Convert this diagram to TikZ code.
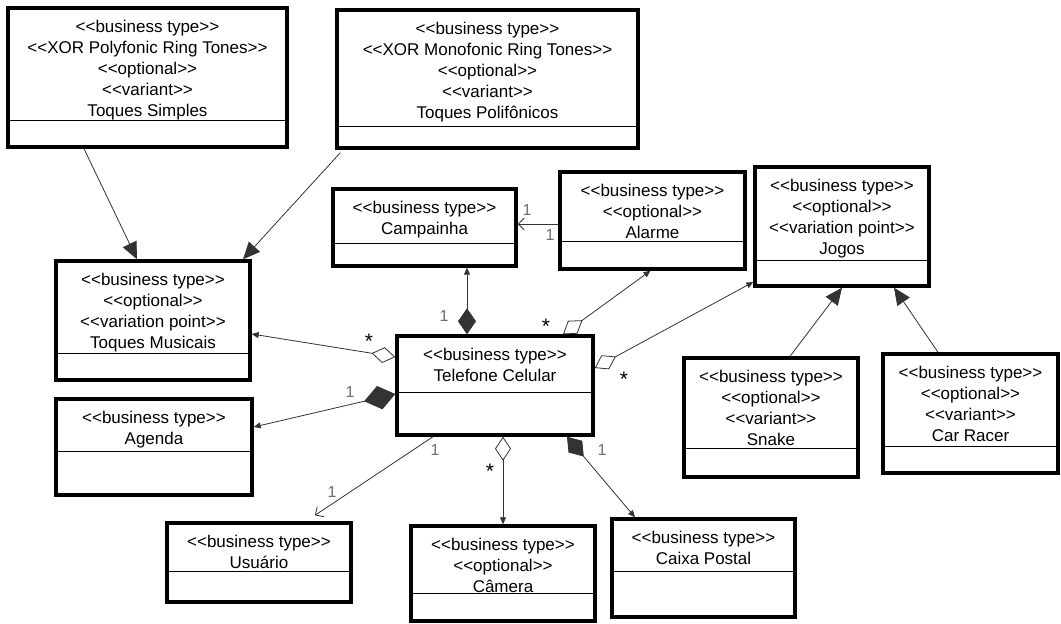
\documentclass[tikz,border=0pt]{standalone}
\usepackage{fontspec}
\setmainfont{Liberation Sans}
\usetikzlibrary{arrows.meta,calc}
\definecolor{edgegray}{HTML}{333333}
\definecolor{multgray}{HTML}{6E6E6E}
% stereotype brackets, kept apart so they are not merged into guillemets
\newcommand\stereo[1]{<\kern0pt<#1>\kern0pt>}
% class box: name, left, top, right, bottom, divider y, text
\newcommand\umlclass[7]{%
  \node[classbox, minimum width={#4-#2}, minimum height={#5-#3}] (#1) at ({(#2+#4)/2},{(#3+#5)/2}) {};
  \draw[divider] ([yshift={#3-#6}]#1.north west) -- ([yshift={#3-#6}]#1.north east);
  \node[classtext, anchor=north] (#1-label) at ([yshift=-14pt]#1.north) {#7};
}
\begin{document}
\begin{tikzpicture}[x=1pt,y=-1pt,
  classbox/.style={draw, line width=3.4pt, rectangle, inner sep=0pt},
  divider/.style={line width=1pt},
  classtext/.style={align=center, inner sep=0pt, font=\fontsize{17}{21}\selectfont},
  link/.style={draw=edgegray, line width=0.8pt},
  gen/.style={link, -{Triangle[length=17pt,width=15pt]}},
  aggnav/.style={link, {Diamond[fill=white,length=24pt,width=16pt]}-{Triangle[length=7pt,width=6pt]}},
  compnav/.style={link, {Diamond[length=26pt,width=18pt]}-{Triangle[length=7pt,width=6pt]}},
  compbig/.style={link, {Diamond[length=32pt,width=24pt]}-{Triangle[length=7pt,width=6pt]}},
  opennav/.style={link, -{Straight Barb[length=6pt,width=12pt]}},
  mult/.style={text=multgray, inner sep=0pt, font=\fontsize{16}{16}\selectfont},
  star/.style={inner sep=0pt, font=\fontsize{21}{21}\selectfont}
]
\useasboundingbox (0,0) rectangle (1061,624);

% classes
\umlclass{simples}{8}{8}{287}{147}{122}{\stereo{business type}\\\stereo{XOR Polyfonic Ring Tones}\\\stereo{optional}\\\stereo{variant}\\Toques Simples}
\umlclass{polif}{337}{10}{638}{148}{128}{\stereo{business type}\\\stereo{XOR Monofonic Ring Tones}\\\stereo{optional}\\\stereo{variant}\\Toques Polifônicos}
\umlclass{camp}{333}{189}{516}{266}{245}{\stereo{business type}\\Campainha}
\umlclass{alarme}{560}{172}{745}{269}{243}{\stereo{business type}\\\stereo{optional}\\Alarme}
\umlclass{jogos}{755}{167}{929}{286}{262}{\stereo{business type}\\\stereo{optional}\\\stereo{variation point}\\Jogos}
\umlclass{musicais}{56}{261}{250}{380}{355}{\stereo{business type}\\\stereo{optional}\\\stereo{variation point}\\Toques Musicais}
\umlclass{agenda}{56}{399}{252}{495}{453}{\stereo{business type}\\Agenda}
\umlclass{tel}{397}{336}{593}{435}{394}{\stereo{business type}\\Telefone Celular}
\umlclass{usuario}{167}{523}{351}{602}{573}{\stereo{business type}\\Usuário}
\umlclass{camera}{411}{526}{595}{621}{595}{\stereo{business type}\\\stereo{optional}\\Câmera}
\umlclass{caixa}{612}{519}{795}{617}{573}{\stereo{business type}\\Caixa Postal}
\umlclass{snake}{684}{358}{858}{477}{450}{\stereo{business type}\\\stereo{optional}\\\stereo{variant}\\Snake}
\umlclass{racer}{883}{354}{1058}{473}{448}{\stereo{business type}\\\stereo{optional}\\\stereo{variant}\\Car Racer}

% generalizations
\draw[gen] ([xshift=-63.5pt]simples.south) -- ([xshift=-16pt]musicais.north);
\draw[gen] ([xshift=5pt,yshift=-3pt]polif.south west) -- ([xshift=90pt]musicais.north);
\draw[gen] ([xshift=19pt]snake.north) -- (jogos.south);
\draw[gen] ([xshift=-32.5pt]racer.north) -- ([xshift=52pt]jogos.south);

% associations of Telefone Celular
\draw[aggnav] ([yshift=28.5pt]tel.west) -- ([yshift=-13.5pt]musicais.east);
\draw[compbig] ([yshift=-8.5pt]tel.west) -- ([yshift=20pt]agenda.east);
\draw[compnav] ([xshift=-28pt]tel.north) -- ([xshift=42.5pt]camp.south);
\draw[aggnav] ([xshift=68pt]tel.north) -- ([xshift=-2pt]alarme.south);
\draw[aggnav] ([yshift=17.5pt]tel.east) -- ([yshift=-55.5pt]jogos.west);
\draw[opennav] ([xshift=-62pt]tel.south) -- ([xshift=56pt,yshift=6pt]usuario.north);
\draw[aggnav] ([xshift=8pt]tel.south) -- (camera.north);
\draw[compnav] ([xshift=72pt]tel.south) -- ([xshift=-68.5pt]caixa.north);
\draw[opennav] ([yshift=-3.5pt]alarme.west) -- ([yshift=3.5pt]camp.east);

% multiplicities
\node[mult] (m-camp) at (527,210) {1};
\node[mult] (m-alarme) at (550,235) {1};
\node[mult] (m-campcomp) at (444,316) {1};
\node[star] (s-alarme) at (546,326) {*};
\node[star] (s-jogos) at (624,379) {*};
\node[star] (s-musicais) at (369,341) {*};
\node[mult] (m-agenda) at (350,392) {1};
\node[mult] (m-tel) at (435,450) {1};
\node[mult] (m-usuario) at (332,492) {1};
\node[star] (s-camera) at (490,471) {*};
\node[mult] (m-caixa) at (602,450) {1};
\end{tikzpicture}
\end{document}
